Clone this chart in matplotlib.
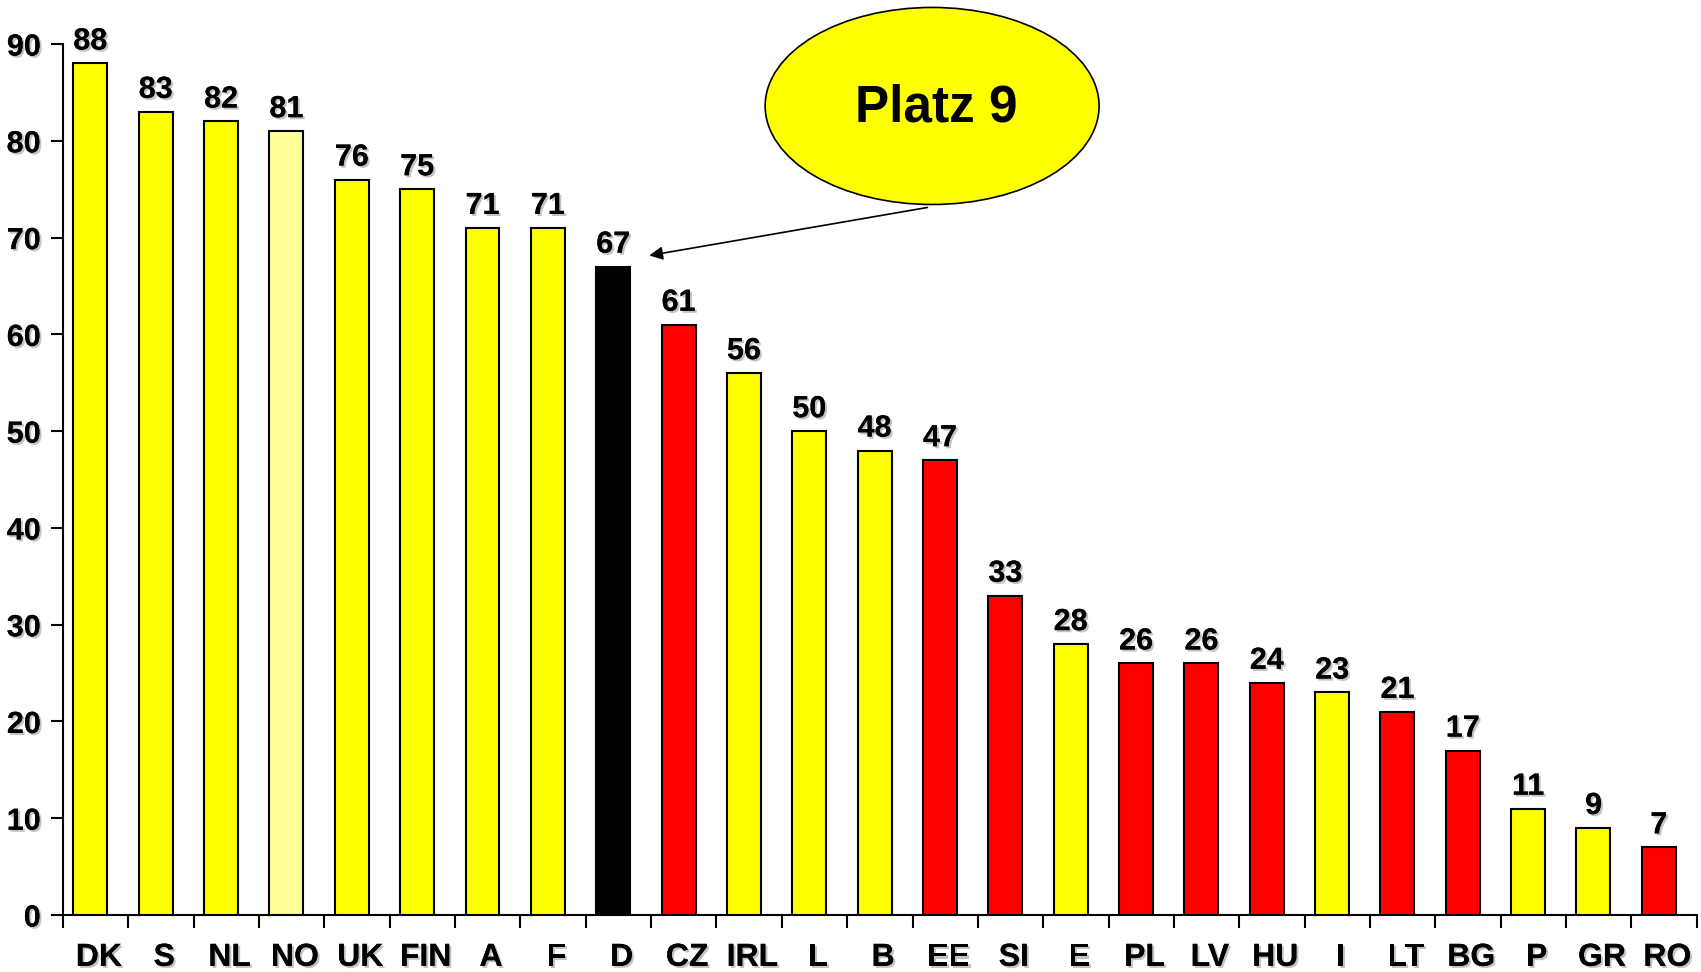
import matplotlib
matplotlib.use('Agg')
import matplotlib.pyplot as plt
import matplotlib.patheffects as pe
from matplotlib.patches import Ellipse

countries = ['DK', 'S', 'NL', 'NO', 'UK', 'FIN', 'A', 'F', 'D', 'CZ', 'IRL', 'L', 'B',
             'EE', 'SI', 'E', 'PL', 'LV', 'HU', 'I', 'LT', 'BG', 'P', 'GR', 'RO']
values = [88, 83, 82, 81, 76, 75, 71, 71, 67, 61, 56, 50, 48, 47, 33, 28, 26, 26, 24, 23, 21, 17, 11, 9, 7]
groups = ['y', 'y', 'y', 'n', 'y', 'y', 'y', 'y', 'd', 'r', 'y', 'y', 'y',
          'r', 'r', 'y', 'r', 'r', 'r', 'y', 'r', 'r', 'y', 'y', 'r']
group_color = {'y': '#FFFF00', 'n': '#FFFF99', 'r': '#FF0000', 'd': '#000000'}

plt.rcParams['font.family'] = ['Liberation Sans', 'DejaVu Sans']
plt.rcParams['font.weight'] = 'bold'

def shadow():
    return [pe.withSimplePatchShadow(offset=(1.5, -1.5), shadow_rgbFace='#aaaaaa', alpha=0.7), pe.Normal()]

fig = plt.figure(figsize=(17.01, 9.72), dpi=100)
ax = fig.add_axes([0.037, 0.0586, 0.9605, 0.8961])

xs = list(range(len(countries)))
# bars sit slightly left of the category centre, as in the original
bar_x = [x - 0.08 for x in xs]
ax.bar(bar_x, values, width=0.52, color=[group_color[g] for g in groups],
       edgecolor='black', linewidth=1.5, zorder=3)

for x, v in zip(bar_x, values):
    ax.annotate(str(v), (x, v), xytext=(0, 5), textcoords='offset points',
                ha='center', va='bottom', fontsize=22, fontweight='bold',
                annotation_clip=False, path_effects=shadow())

ax.set_xlim(-0.5, len(countries) - 0.5)
ax.set_ylim(0, 90)
ax.set_yticks(range(0, 91, 10))
ax.tick_params(axis='y', direction='out', length=9, width=1.5, pad=7, labelsize=22)
for lab in ax.get_yticklabels():
    lab.set_fontweight('bold')
    lab.set_path_effects(shadow())

# boundary ticks (major) and labels at centres (minor)
ax.set_xticks([x - 0.5 for x in range(len(countries) + 1)])
ax.set_xticklabels([])
ax.tick_params(axis='x', which='major', direction='out', length=9, width=1.5)
ax.set_xticks([x + 0.05 for x in xs], minor=True)
ax.set_xticklabels(countries, minor=True)
ax.tick_params(axis='x', which='minor', length=0, pad=20, labelsize=23)
for lab in ax.get_xticklabels(minor=True):
    lab.set_fontweight('bold')
    lab.set_path_effects(shadow())

for s in ['top', 'right']:
    ax.spines[s].set_visible(False)
for s in ['left', 'bottom']:
    ax.spines[s].set_linewidth(1.5)

# callout
ell = Ellipse((12.80, 83.6), 5.11, 20.36, facecolor='#FFFF00', edgecolor='black',
              linewidth=1.2, clip_on=False, zorder=5)
ax.add_patch(ell)
ax.text(12.87, 83.4, 'Platz 9', ha='center', va='center', fontsize=37,
        fontweight='bold', zorder=6, clip_on=False)
ax.annotate('', xy=(8.43, 68.1), xytext=(12.77, 73.16),
            arrowprops=dict(arrowstyle='-|>', color='black', lw=1.2, mutation_scale=20),
            annotation_clip=False, zorder=6)

fig.savefig('out.png', dpi=100)
